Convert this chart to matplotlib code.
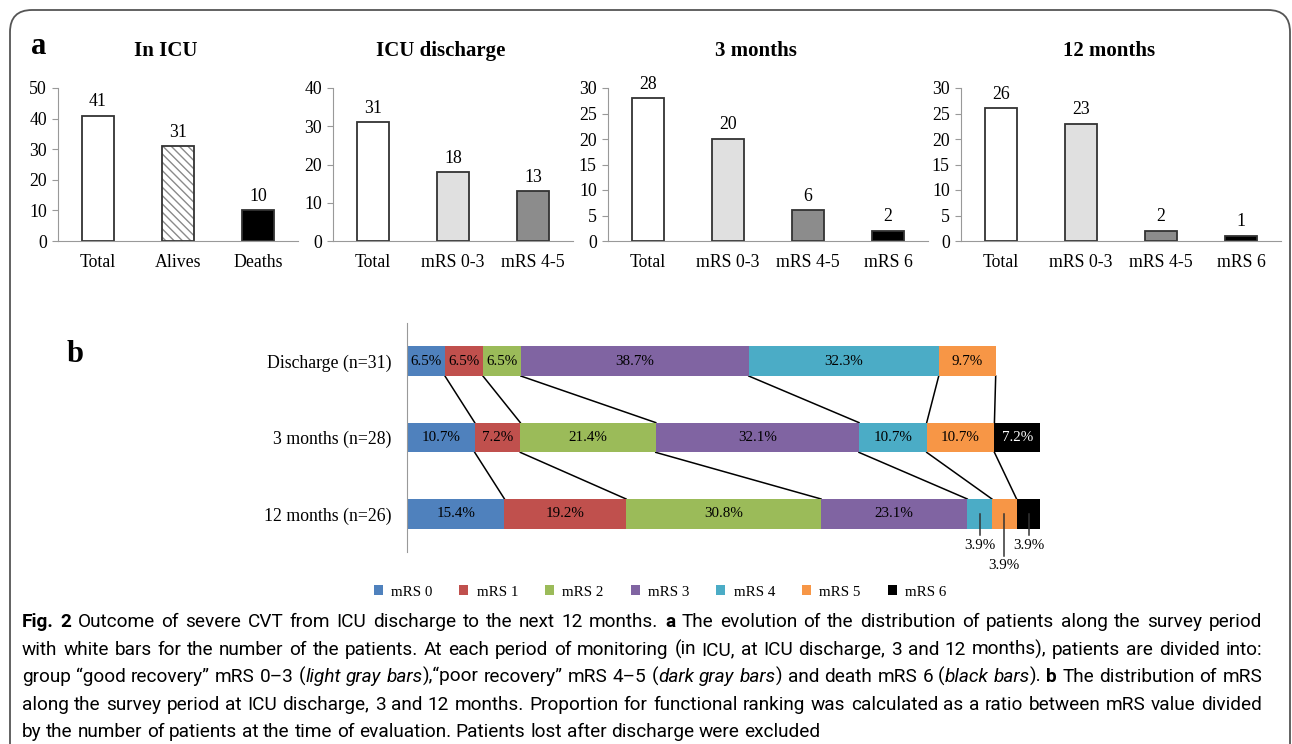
import re
import matplotlib
matplotlib.use("Agg")
import matplotlib.pyplot as plt
from matplotlib.patches import Patch, FancyBboxPatch
from matplotlib.transforms import IdentityTransform

W, H = 1292, 744
plt.rcParams["font.family"] = ["Liberation Serif", "DejaVu Serif"]
plt.rcParams["hatch.linewidth"] = 1.0

# ---- panel a data
icu_cats = ["Total", "Alives", "Deaths"]
icu_vals = [41, 31, 10]
dis_cats = ["Total", "mRS 0-3", "mRS 4-5"]
dis_vals = [31, 18, 13]
m3_cats = ["Total", "mRS 0-3", "mRS 4-5", "mRS 6"]
m3_vals = [28, 20, 6, 2]
m12_cats = ["Total", "mRS 0-3", "mRS 4-5", "mRS 6"]
m12_vals = [26, 23, 2, 1]
panel_titles = ["In ICU", "ICU discharge", "3 months", "12 months"]
panel_ymax = [50, 40, 30, 30]
panel_ystep = [10, 10, 5, 5]

# ---- panel b data
rows = ["Discharge (n=31)", "3 months (n=28)", "12 months (n=26)"]
mrs_labels = ["mRS 0", "mRS 1", "mRS 2", "mRS 3", "mRS 4", "mRS 5", "mRS 6"]
pct_discharge = [6.5, 6.5, 6.5, 38.7, 32.3, 9.7, 0]
pct_3m = [10.7, 7.2, 21.4, 32.1, 10.7, 10.7, 7.2]
pct_12m = [15.4, 19.2, 30.8, 23.1, 3.9, 3.9, 3.9]
# bar lengths as drawn in the source (discharge row is drawn shorter)
len_discharge = [6.0, 6.0, 6.0, 36.0, 30.0, 9.0, 0]
len_3m = pct_3m
len_12m = pct_12m

mrs_colors = ["#4F81BD", "#C0504D", "#9BBB59", "#8064A2", "#4BACC6", "#F79646", "#000000"]


def fx(px):
    return px / W


def fy(py):
    return 1 - py / H


fig = plt.figure(figsize=(W / 100, H / 100), dpi=100)

# frame
fig.add_artist(FancyBboxPatch((10, -40), 1280, 774, boxstyle="round,pad=0,rounding_size=22",
                              transform=IdentityTransform(), fill=False, edgecolor="#555555", lw=1.3))

# ---------------- panel a
bar_style = {
    "Total": dict(color="white"),
    "Alives": dict(color="white", hatch="\\\\\\\\"),
    "Deaths": dict(color="black"),
    "mRS 0-3": dict(color="#E0E0E0"),
    "mRS 4-5": dict(color="#8C8C8C"),
    "mRS 6": dict(color="black"),
}
panels = [(icu_cats, icu_vals), (dis_cats, dis_vals), (m3_cats, m3_vals), (m12_cats, m12_vals)]
ax_left = [58, 333, 608, 961]
ax_width = [240, 240, 320, 320]

for i, (cats, vals) in enumerate(panels):
    ax = fig.add_axes([fx(ax_left[i]), fy(241), ax_width[i] / W, 153 / H])
    for j, (c, v) in enumerate(zip(cats, vals)):
        st = bar_style[c]
        if "hatch" in st:
            ax.bar(j, v, width=0.4, color="white", edgecolor="#8a8a8a", hatch=st["hatch"], lw=0, zorder=2)
            ax.bar(j, v, width=0.4, color="none", edgecolor="#333333", lw=1.3, zorder=2)
        else:
            ax.bar(j, v, width=0.4, color=st["color"], edgecolor="#333333", lw=1.3, zorder=2)
        ax.annotate(str(v), (j, v), xytext=(0, 4), textcoords="offset points",
                    ha="center", va="bottom", fontsize=12.8)
    ax.set_xlim(-0.5, len(cats) - 0.5)
    ax.set_ylim(0, panel_ymax[i])
    ax.set_yticks(range(0, panel_ymax[i] + 1, panel_ystep[i]))
    ax.set_xticks(range(len(cats)))
    ax.set_xticklabels(cats)
    for s in ["top", "right"]:
        ax.spines[s].set_visible(False)
    for s in ["left", "bottom"]:
        ax.spines[s].set_color("#999999")
        ax.spines[s].set_zorder(3)
    ax.tick_params(axis="y", length=4, color="#999999", labelsize=12.8, pad=4)
    ax.tick_params(axis="x", length=0, labelsize=12.8, pad=9)
    ax.patch.set_visible(False)
    fig.text(fx(ax_left[i] + ax_width[i] / 2 - 12), fy(51), panel_titles[i],
             ha="center", va="center", fontsize=15, weight="bold")

fig.text(fx(31), fy(46), "a", ha="left", va="center", fontsize=22, weight="bold")
fig.text(fx(67), fy(354), "b", ha="left", va="center", fontsize=22, weight="bold")

# ---------------- panel b
axb = fig.add_axes([fx(407), fy(552), 633 / W, 229 / H])
axb.set_xlim(0, 100)
axb.set_ylim(2.5, -0.5)
bh = 0.39
row_pct = [pct_discharge, pct_3m, pct_12m]
row_len = [len_discharge, len_3m, len_12m]
bounds = []
for r in range(3):
    left = 0
    b = []
    for k in range(7):
        w = row_len[r][k]
        if w > 0:
            axb.barh(r, w, left=left, height=bh, color=mrs_colors[k], edgecolor="none", zorder=2)
            if not (r == 2 and k >= 4):
                axb.text(left + w / 2, r, f"{row_pct[r][k]:.1f}%", ha="center", va="center",
                         fontsize=10.8, color="white" if k == 6 else "black", zorder=3)
        left += w
        b.append(left)
    bounds.append(b)

# connectors between consecutive rows
for r in range(2):
    for k in range(6):
        axb.plot([bounds[r][k], bounds[r + 1][k]], [r + bh / 2, r + 1 - bh / 2],
                 color="black", lw=1.1, zorder=1, clip_on=False)

# outside labels for small 12-month segments
label_dy = {4: 0.41, 5: 0.68, 6: 0.41}
left = sum(len_12m[:4])
for k in range(4, 7):
    w = len_12m[k]
    cx = left + w / 2
    ly = 2 + label_dy[k]
    axb.plot([cx, cx], [2, ly - 0.13], color="#333333", lw=1.1, zorder=3, clip_on=False)
    axb.text(cx, ly, f"{pct_12m[k]:.1f}%", ha="center", va="center", fontsize=10.8, clip_on=False)
    left += w

axb.set_yticks(range(3))
axb.set_yticklabels(rows)
axb.set_xticks([])
for s in ["top", "right", "bottom"]:
    axb.spines[s].set_visible(False)
axb.spines["left"].set_color("#999999")
axb.tick_params(axis="y", length=0, labelsize=12.8, pad=11)
axb.patch.set_visible(False)

handles = [Patch(facecolor=c, edgecolor="none", label=l) for c, l in zip(mrs_colors, mrs_labels)]
fig.legend(handles=handles, loc="center", bbox_to_anchor=(fx(660), fy(592)), ncol=7, frameon=False,
           fontsize=10.8, handlelength=0.6, handleheight=0.6, handletextpad=0.55, columnspacing=1.8)

# ---------------- caption
cap_font = ["Roboto", "DejaVu Sans"]
caption = [
    "<b>Fig. 2</b>  Outcome of severe CVT from ICU discharge to the next 12 months. <b>a</b> The evolution of the distribution of patients along the survey period",
    "with white bars for the number of the patients. At each period of monitoring (in ICU, at ICU discharge, 3 and 12 months), patients are divided into:",
    "group \u201cgood recovery\u201d mRS 0\u20133 (<i>light gray bars</i>),\u201cpoor recovery\u201d mRS 4\u20135 (<i>dark gray bars</i>) and death mRS 6 (<i>black bars</i>). <b>b</b> The distribution of mRS",
    "along the survey period at ICU discharge, 3 and 12 months. Proportion for functional ranking was calculated as a ratio between mRS value divided",
    "by the number of patients at the time of evaluation. Patients lost after discharge were excluded",
]
cap_base = [627, 655, 682, 710, 737]
cap_x0, cap_x1 = 22, 1262

renderer = fig.canvas.get_renderer()


def parse_words(line):
    runs = []
    for m in re.finditer(r"<(b|i)>(.*?)</\1>|([^<]+)", line):
        if m.group(3) is not None:
            runs.append((m.group(3), "n"))
        else:
            runs.append((m.group(2), m.group(1)))
    words, cur = [], []
    for txt, st in runs:
        parts = txt.split(" ")
        for n, p in enumerate(parts):
            if n > 0 and cur:
                words.append(cur)
                cur = []
            if p:
                cur.append((p, st))
    if cur:
        words.append(cur)
    return words


def make_text(txt, st, size):
    return fig.text(0, 0, txt, fontsize=size, family=cap_font, va="baseline", ha="left",
                    weight="bold" if st == "b" else "normal",
                    style="italic" if st == "i" else "normal")


def measure(txt, st, size):
    t = make_text(txt, st, size)
    w = t.get_window_extent(renderer).width
    t.remove()
    return w


size0 = 12
space0 = measure("a a", "n", size0) - measure("aa", "n", size0)
nat = []
for line in caption[:4]:
    ws = parse_words(line)
    tot = sum(measure(p, s, size0) for wd in ws for p, s in wd) + space0 * (len(ws) - 1)
    nat.append(tot)
cap_size = size0 * (cap_x1 - cap_x0) / max(nat) * 0.99
space_w = space0 * cap_size / size0

for li, line in enumerate(caption):
    ws = parse_words(line)
    objs = []
    total = 0
    for wd in ws:
        wobj = []
        for p, s in wd:
            t = make_text(p, s, cap_size)
            pw = t.get_window_extent(renderer).width
            wobj.append((t, pw))
            total += pw
        objs.append(wobj)
    if li < 4 and len(ws) > 1:
        gap = (cap_x1 - cap_x0 - total) / (len(ws) - 1)
    else:
        gap = space_w
    x = cap_x0
    for wobj in objs:
        for t, pw in wobj:
            t.set_position((fx(x), fy(cap_base[li])))
            x += pw
        x += gap

fig.savefig("out.png", dpi=100)
